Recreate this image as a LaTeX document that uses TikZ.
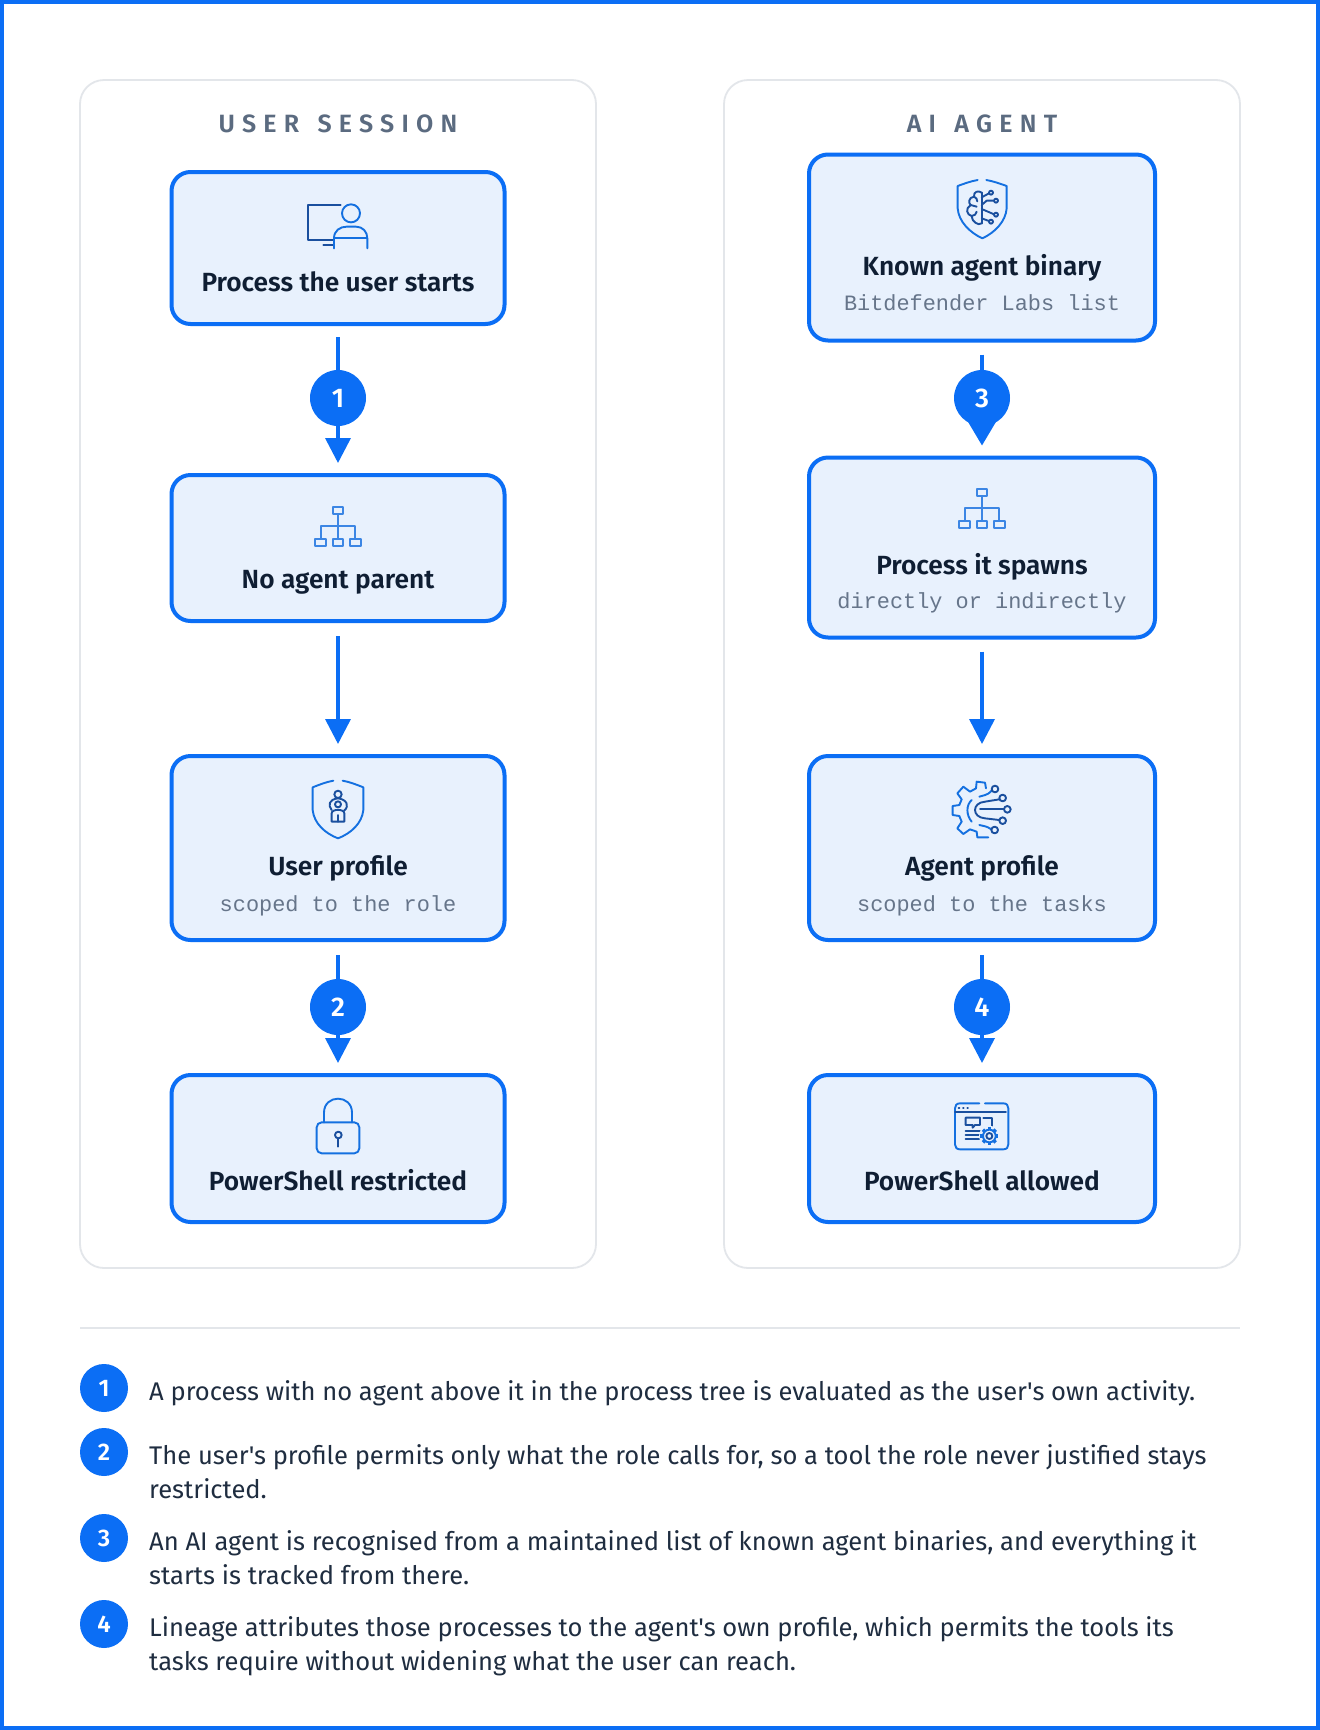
\documentclass[tikz,border=0pt]{standalone}
\usepackage{fontspec}
\usetikzlibrary{arrows.meta,calc}
\setmainfont{Fira Sans}[Ligatures=TeXOff]
\newfontfamily\semif{Fira Sans}[UprightFont={* SemiBold},Ligatures=TeXOff]
\newfontfamily\monof{Liberation Mono}
\definecolor{blu}{HTML}{0B6EF5}
\definecolor{boxfill}{HTML}{E8F1FD}
\definecolor{panelln}{HTML}{E3E6EA}
\definecolor{ink}{HTML}{0F1E33}
\definecolor{legink}{HTML}{1F2D40}
\definecolor{slate}{HTML}{5B6B80}
\definecolor{subt}{HTML}{66758A}
\definecolor{icl}{HTML}{1470E0}
\definecolor{iclt}{HTML}{3C86E4}
\definecolor{icd}{HTML}{1A4F9E}
\tikzset{
  x=1pt,y=-1pt,
  panel/.style={draw=panelln,line width=1.8pt,rounded corners=24pt,fill=white,minimum width=516pt,minimum height=1188pt,outer sep=0pt},
  flowbox/.style={draw=blu,line width=4pt,rounded corners=19pt,fill=boxfill,outer sep=0pt},
  leftbox/.style={flowbox,minimum width=333pt},
  rightbox/.style={flowbox,minimum width=346pt},
  head/.style={font=\fontsize{25}{30}\semif\addfontfeatures{LetterSpace=29},text=slate,anchor=base},
  ttl/.style={font=\fontsize{26.3}{30}\semif,text=ink,anchor=base},
  subl/.style={font=\fontsize{21.9}{26}\monof,text=subt,anchor=base},
  badge/.style={circle,fill=blu,text=white,minimum size=56pt,inner sep=0pt,font=\fontsize{27}{30}\semif},
  lbadge/.style={circle,fill=blu,text=white,minimum size=48pt,inner sep=0pt,font=\fontsize{24}{28}\semif},
  legtext/.style={font=\fontsize{25.55}{30}\selectfont,text=legink,anchor=base west,inner sep=0pt},
  flow/.style={draw=blu,line width=3.6pt,-{Triangle[length=25pt,width=25pt]}},
  iconl/.style={draw=icl,line width=1.9pt,line cap=round,line join=round},
  iconp/.style={draw=iclt,line width=1.7pt,line cap=round,line join=round},
  icond/.style={draw=icd,line width=1.9pt,line cap=round,line join=round},
}
\begin{document}
\begin{tikzpicture}
\useasboundingbox (0,0) rectangle (1320,1730);
\fill[white] (0,0) rectangle (1320,1730);
\draw[blu,line width=4pt] (2,2) rectangle (1318,1728);
% panels
\node[panel] (pl) at (338,674) {};
\node[panel] (pr) at (982,674) {};
\node[head] (hl) at (338,132) {USER\hspace{5pt} SESSION};
\node[head] (hr) at (982,132) {AI\hspace{5pt} AGENT};
% boxes
\node[leftbox,minimum height=152pt] (l1) at (338,248) {};
\node[leftbox,minimum height=146pt] (l2) at (338,548) {};
\node[leftbox,minimum height=184pt] (l3) at (338,848) {};
\node[leftbox,minimum height=147pt] (l4) at (338,1148.5) {};
\node[rightbox,minimum height=186pt] (r1) at (982,247.5) {};
\node[rightbox,minimum height=180pt] (r2) at (982,547.5) {};
\node[rightbox,minimum height=184pt] (r3) at (982,848) {};
\node[rightbox,minimum height=147pt] (r4) at (982,1148.5) {};
% box text
\node[ttl] (t1) at (338,291.5) {Process the user starts};
\node[ttl] (t2) at (338,588.5) {No agent parent};
\node[ttl] (t3) at (338,875) {User profile};
\node[subl] (s3) at (338,911) {scoped to the role};
\node[ttl] (t4) at (338,1190) {PowerShell restricted};
\node[ttl] (t5) at (982,275) {Known agent binary};
\node[subl] (s5) at (982,310) {Bitdefender Labs list};
\node[ttl] (t6) at (982,574) {Process it spawns};
\node[subl] (s6) at (982,608) {directly or indirectly};
\node[ttl] (t7) at (982,875) {Agent profile};
\node[subl] (s7) at (982,911) {scoped to the tasks};
\node[ttl] (t8) at (982,1190) {PowerShell allowed};
% connectors
\draw[flow,shorten <=13pt,shorten >=12pt] (l1.south) -- (l2.north);
\draw[flow,shorten <=15pt,shorten >=12pt] (l2.south) -- (l3.north);
\draw[flow,shorten <=15pt,shorten >=12pt] (l3.south) -- (l4.north);
\draw[draw=blu,line width=3.6pt,-{Triangle[length=27pt,width=31pt]},shorten <=14pt,shorten >=12pt] (r1.south) -- (r2.north);
\draw[flow,shorten <=14pt,shorten >=12pt] (r2.south) -- (r3.north);
\draw[flow,shorten <=15pt,shorten >=12pt] (r3.south) -- (r4.north);
% badges
\node[badge] (b1) at (338,398) {1};
\node[badge] (b2) at (338,1007) {2};
\node[badge] (b3) at (982,398) {3};
\node[badge] (b4) at (982,1007) {4};
% divider
\coordinate (da) at (80,1328);
\coordinate (db) at (1240,1328);
\draw[panelln,line width=1.8pt] (da) -- (db);
% legend
\node[lbadge] (k1) at (104,1388) {1};
\node[lbadge] (k2) at (104,1452) {2};
\node[lbadge] (k3) at (104,1538) {3};
\node[lbadge] (k4) at (104,1624) {4};
\node[legtext] (x1) at (149,1400.5) {A process with no agent above it in the process tree is evaluated as the user's own activity.};
\node[legtext] (x2) at (149,1464.5) {The user's profile permits only what the role calls for, so a tool the role never justified stays};
\node[legtext] (x2b) at (149,1498.5) {restricted.};
\node[legtext] (x3) at (149,1550.5) {An AI agent is recognised from a maintained list of known agent binaries, and everything it};
\node[legtext] (x3b) at (149,1584.5) {starts is tracked from there.};
\node[legtext] (x4) at (149,1636.5) {Lineage attributes those processes to the agent's own profile, which permits the tools its};
\node[legtext] (x4b) at (149,1670.5) {tasks require without widening what the user can reach.};
% icon: monitor and person
\begin{scope}[shift={(150,150)},scale=0.33333]
\draw[icond] (572,165) -- (475,165) -- (475,270) -- (552,270);
\draw[icond] (520,285) -- (552,285);
\draw[iconl] (603,190) circle (27);
\draw[iconl] (552,295) -- (552,265) .. controls (552,242) and (570,230) .. (590,230) -- (618,230) .. controls (638,230) and (652,245) .. (652,265) -- (652,295);
\draw[iconl] (555,263) -- (650,263);
\end{scope}
% icons: org charts
\foreach \ox/\oy in {270/480,914/462}{
\begin{scope}[shift={(\ox,\oy)},scale=0.33333]
\draw[iconp] (204,102) -- (204,176) (152,176) -- (152,138) -- (256,138) -- (256,176);
\draw[iconp] (188,82) rectangle (220,102);
\draw[iconp] (135,176) rectangle (168,197);
\draw[iconp] (188,176) rectangle (220,197);
\draw[iconp] (240,176) rectangle (272,197);
\end{scope}}
% icon: shield with brain
\begin{scope}[shift={(790,140)},scale=0.33333]
\draw[iconl] (563,120) .. controls (540,124) and (520,132) .. (503,138) -- (503,205) .. controls (506,245) and (540,278) .. (577,295) .. controls (614,278) and (647,245) .. (650,205) -- (650,138) .. controls (633,132) and (612,124) .. (589,120);
\draw[icond] (575,158) -- (575,250);
\draw[icond] (575,158) .. controls (565,150) and (550,155) .. (552,170) .. controls (535,172) and (535,190) .. (542,195) .. controls (525,205) and (530,225) .. (545,228) .. controls (545,245) and (565,258) .. (575,250);
\draw[icond] (552,170) .. controls (558,172) and (562,178) .. (562,184) (542,195) -- (560,200) (545,228) .. controls (552,228) and (560,222) .. (560,215);
\draw[icond] (575,172) -- (597,160) (575,195) -- (590,182) -- (610,182) (575,207) -- (610,222) (575,235) -- (597,243);
\draw[icond] (603,158) circle (6) (618,182) circle (6) (618,224) circle (6) (603,245) circle (6);
\end{scope}
% icon: shield with person
\begin{scope}[shift={(280,760)},scale=0.33333]
\draw[iconl] (160,62) .. controls (138,66) and (118,74) .. (98,82) -- (98,150) .. controls (102,190) and (135,220) .. (174,235) .. controls (213,220) and (246,190) .. (250,150) -- (250,82) .. controls (230,74) and (210,66) .. (188,62);
\draw[icond] (174,103) circle (11);
\draw[icond] (155,150) .. controls (143,135) and (147,118) .. (174,115) .. controls (200,118) and (210,138) .. (192,152);
\draw[icond] (174,133) circle (9);
\draw[icond] (155,185) -- (155,160) .. controls (155,146) and (193,146) .. (193,160) -- (193,185) -- cycle;
\draw[icond] (174,165) -- (174,185);
\end{scope}
% icon: gear with circuits
\begin{scope}[shift={(920,760)},scale=0.33333]
\draw[iconl] (198,85) -- (195,68) -- (170,65) -- (168,85) -- (150,95) -- (130,80) -- (112,100) -- (125,118) -- (118,135) -- (98,138) -- (98,165) -- (118,168) -- (125,185) -- (112,205) -- (130,222) -- (150,208) -- (170,215) -- (172,232) -- (205,232);
\draw[iconl] (155,120) .. controls (138,135) and (138,165) .. (155,185);
\draw[iconl] (215,92) .. controls (200,108) and (190,105) .. (178,110);
\draw[iconl] (178,195) .. controls (190,198) and (200,198) .. (214,208);
\draw[icond] (238,118) -- (195,125) .. controls (155,128) and (155,172) .. (195,175) -- (238,180);
\draw[icond] (252,148) -- (180,148);
\draw[icond] (225,87) circle (10) (248,114) circle (10) (262,148) circle (10) (248,182) circle (10) (224,210) circle (10);
\end{scope}
% icon: padlock
\begin{scope}[shift={(290,1080)},scale=0.33333]
\draw[iconl,rounded corners=5pt] (80,127) rectangle (208,220);
\draw[iconl] (102,127) -- (102,98) .. controls (102,42) and (186,42) .. (186,98) -- (186,127);
\draw[icond] (145,165) circle (10);
\draw[icond] (145,175) -- (145,200);
\end{scope}
% icon: window with gear
\begin{scope}[shift={(930,1080)},scale=0.33333]
\draw[iconl] (148,70) -- (90,70) .. controls (80,70) and (75,76) .. (75,85) -- (75,193) .. controls (75,202) and (80,208) .. (90,208) -- (220,208) .. controls (230,208) and (235,202) .. (235,193) -- (235,85) .. controls (235,76) and (230,70) .. (220,70) -- (165,70);
\draw[icond] (75,97) -- (228,97);
\draw[icond] (86,84) -- (88,84) (99,84) -- (101,84) (112,84) -- (114,84);
\draw[icond] (107,113) -- (150,113) -- (150,135) -- (135,135) -- (128,143) -- (128,135) -- (107,135) -- cycle;
\draw[icond] (160,113) -- (185,113) -- (185,140);
\draw[icond] (107,152) -- (150,152) (107,165) -- (150,165) (107,177) -- (150,177);
\fill[boxfill] (178,168) circle (31);
\draw[iconl] (178,168) circle (19);
\foreach \a in {0,45,...,315}{\draw[iconl,line width=3.4pt,line cap=butt] ($(178,168)+(\a:19)$) -- ($(178,168)+(\a:27)$);}
\draw[icond] (178,168) circle (9);
\end{scope}
\end{tikzpicture}
\end{document}
